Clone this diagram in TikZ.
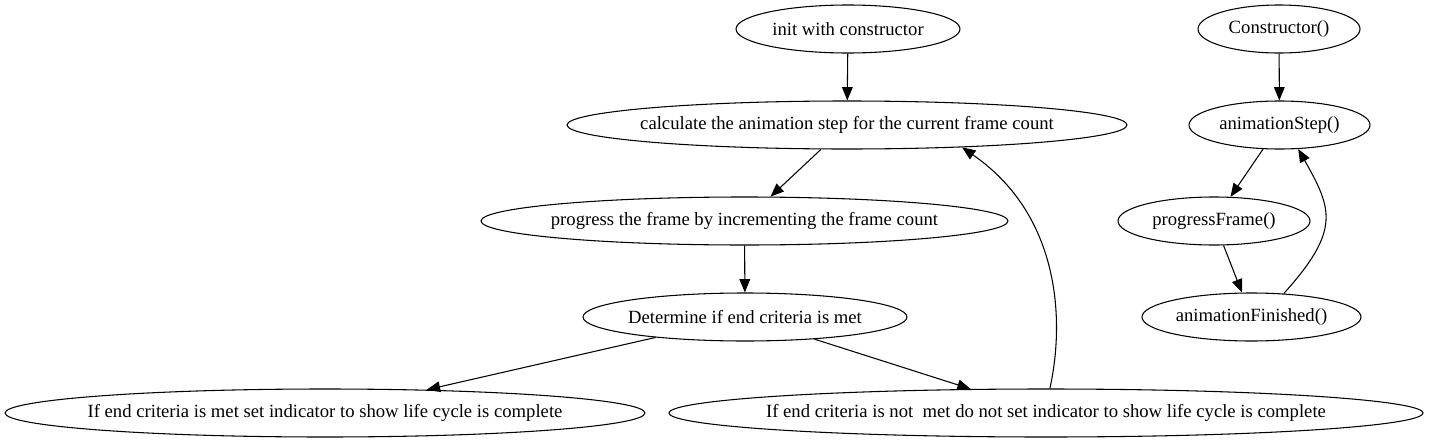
\documentclass[tikz,border=0pt]{standalone}
\usepackage{fontspec}
\setmainfont{Liberation Serif}
\usetikzlibrary{shapes.geometric,arrows.meta}
\begin{document}
\begin{tikzpicture}[x=0.75pt,y=-0.75pt,
  ell/.style={draw, ellipse, line width=0.8pt, inner sep=0pt, minimum height=36pt, font=\fontsize{14pt}{16pt}\selectfont},
  edge/.style={line width=0.8pt, -{Triangle[length=10pt,width=8pt]}}]
\useasboundingbox (0,0) rectangle (1429,443);
\node[ell, minimum width=168pt]    (n1)  at (848,29)    {\makebox[0pt]{init with constructor}};
\node[ell, minimum width=420pt]    (n2)  at (847,125)   {\makebox[0pt]{calculate the animation step for the current frame count}};
\node[ell, minimum width=395.25pt] (n3)  at (744.5,221) {\makebox[0pt]{progress the frame by incrementing the frame count}};
\node[ell, minimum width=243pt]    (n4)  at (745,317)   {\makebox[0pt]{Determine if end criteria is met}};
\node[ell, minimum width=480pt]    (n5)  at (325,413)   {\makebox[0pt]{If end criteria is met set indicator to show life cycle is complete}};
\node[ell, minimum width=565.5pt]  (n6)  at (1046,413)  {\makebox[0pt]{If end criteria is not\ \ met do not set indicator to show life cycle is complete}};
\node[ell, minimum width=121.5pt]  (n7)  at (1279,29)   {\makebox[0pt]{Constructor()}};
\node[ell, minimum width=135.75pt] (n8)  at (1279.5,125) {\makebox[0pt]{animationStep()}};
\node[ell, minimum width=144pt]    (n9)  at (1214,221)  {\makebox[0pt]{progressFrame()}};
\node[ell, minimum width=164.25pt] (n10) at (1251.5,317) {\makebox[0pt]{animationFinished()}};
\draw[edge] (n1) -- (n2);
\draw[edge] (n2) -- (n3);
\draw[edge] (n3) -- (n4);
\draw[edge] (n4) -- (n5);
\draw[edge] (n4) -- (n6);
\draw[edge] (n6.81) .. controls (1065,320) and (1060,215) .. (n2.-11.8);
\draw[edge] (n7) -- (n8);
\draw[edge] (n8) -- (n9);
\draw[edge] (n9) -- (n10);
\draw[edge] (n10.36) .. controls (1341,230) and (1332,209) .. (n8.-52.4);
\end{tikzpicture}
\end{document}
